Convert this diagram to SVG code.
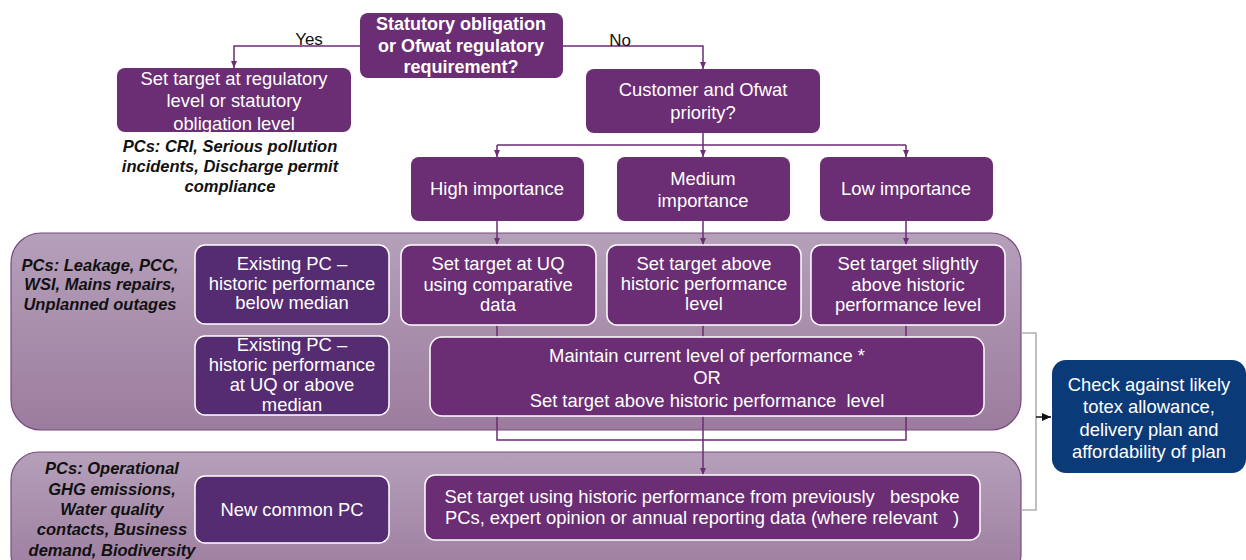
<svg xmlns="http://www.w3.org/2000/svg" width="1246" height="560" viewBox="0 0 1246 560">
<defs>
<linearGradient id="band" x1="0" y1="0" x2="0" y2="1">
<stop offset="0" stop-color="#b5a0ba"/>
<stop offset="1" stop-color="#9c7c9e"/>
</linearGradient>
<marker id="arr" markerUnits="userSpaceOnUse" markerWidth="8" markerHeight="8" refX="7" refY="4" orient="auto">
<path d="M0,1 L7,4 L0,7 Z" fill="#6b2d73"/>
</marker>
<marker id="arrk" markerUnits="userSpaceOnUse" markerWidth="10" markerHeight="10" refX="9" refY="5" orient="auto">
<path d="M0,1 L9,5 L0,9 Z" fill="#111"/>
</marker>
</defs>
<style>
.n{fill:#6b2d73}
.d{fill:#552b72;stroke:#fff;stroke-width:1.5}
.w{fill:#6b2d73;stroke:#fff;stroke-width:1.5}
.b{fill:url(#band);stroke:#7a4a80;stroke-width:1.2}
.t{font-family:"Liberation Sans",Arial,sans-serif;font-size:18.4px;fill:#fff;text-anchor:middle}
.tb{font-family:"Liberation Sans",Arial,sans-serif;font-size:18px;font-weight:bold;fill:#fff;text-anchor:middle}
.pc{font-family:"Liberation Sans",Arial,sans-serif;font-size:16.5px;font-weight:bold;font-style:italic;fill:#111;text-anchor:middle}
.lb{font-family:"Liberation Sans",Arial,sans-serif;font-size:17px;fill:#111;text-anchor:middle}
.c{fill:none;stroke:#6b2d73;stroke-width:1.5}
.g{fill:none;stroke:#b0b0b0;stroke-width:1.6}
</style>

<g id="band1"><rect class="b" x="11" y="233" width="1010" height="197" rx="30"/>
<text class="pc"><tspan x="100" y="271">PCs: Leakage, PCC,</tspan><tspan x="100" y="290">WSI, Mains repairs,</tspan><tspan x="100" y="310">Unplanned outages</tspan></text></g>
<g id="band2"><rect class="b" x="11" y="452" width="1010" height="130" rx="28"/>
<text class="pc"><tspan x="112" y="474">PCs: Operational</tspan><tspan x="112" y="495">GHG emissions,</tspan><tspan x="112" y="515">Water quality</tspan><tspan x="112" y="535">contacts, Business</tspan><tspan x="112" y="556">demand, Biodiversity</tspan></text></g>

<g id="connectors">
<path class="c" d="M360,46 H234 V68" marker-end="url(#arr)"/>
<path class="c" d="M563,46 H703 V69" marker-end="url(#arr)"/>
<path class="c" d="M703,133 V145"/>
<path class="c" d="M497,145 H906"/>
<path class="c" d="M497,145 V157" marker-end="url(#arr)"/>
<path class="c" d="M703,145 V157" marker-end="url(#arr)"/>
<path class="c" d="M906,145 V157" marker-end="url(#arr)"/>
<path class="c" d="M497,221 V245" marker-end="url(#arr)"/>
<path class="c" d="M703,221 V245" marker-end="url(#arr)"/>
<path class="c" d="M906,221 V245" marker-end="url(#arr)"/>
<path class="c" d="M497,325 V337 M703,325 V337 M906,325 V337"/>
<path class="c" d="M497,416 V440 H906 V416"/>
<path class="c" d="M703,416 V475" marker-end="url(#arr)"/>
<path class="g" d="M1021,333 H1036 V510 H1021"/>
<path d="M1036,417 H1051" stroke="#111" stroke-width="1.5" fill="none" marker-end="url(#arrk)"/>
<text class="lb" x="309" y="45">Yes</text>
<text class="lb" x="620" y="46">No</text>
</g>

<g id="q1"><rect class="n" x="360" y="13" width="203" height="65" rx="8"/>
<text class="tb"><tspan x="461" y="30">Statutory obligation</tspan><tspan x="461" y="52">or Ofwat regulatory</tspan><tspan x="461" y="73">requirement?</tspan></text></g>

<g id="reg"><rect class="n" x="117" y="68" width="234" height="64" rx="8"/>
<text class="t"><tspan x="234" y="85">Set target at regulatory</tspan><tspan x="234" y="107">level or statutory</tspan><tspan x="234" y="130">obligation level</tspan></text>
<text class="pc"><tspan x="230" y="152">PCs: CRI, Serious pollution</tspan><tspan x="230" y="172">incidents, Discharge permit</tspan><tspan x="230" y="192">compliance</tspan></text></g>

<g id="q2"><rect class="n" x="586" y="69" width="234" height="64" rx="8"/>
<text class="t"><tspan x="703" y="96">Customer and Ofwat</tspan><tspan x="703" y="119">priority?</tspan></text></g>

<g id="high"><rect class="n" x="411" y="157" width="173" height="64" rx="8"/>
<text class="t" x="497" y="195">High importance</text></g>
<g id="medium"><rect class="n" x="617" y="157" width="173" height="64" rx="8"/>
<text class="t"><tspan x="703" y="185">Medium</tspan><tspan x="703" y="207">importance</tspan></text></g>
<g id="low"><rect class="n" x="820" y="157" width="173" height="64" rx="8"/>
<text class="t" x="906" y="195">Low importance</text></g>

<g id="ex1"><rect class="d" x="195" y="245" width="194" height="79" rx="10"/>
<text class="t"><tspan x="292" y="270">Existing PC –</tspan><tspan x="292" y="290">historic performance</tspan><tspan x="292" y="309">below median</tspan></text></g>
<g id="ex2"><rect class="d" x="195" y="336" width="194" height="79" rx="10"/>
<text class="t"><tspan x="292" y="351">Existing PC –</tspan><tspan x="292" y="371">historic performance</tspan><tspan x="292" y="391">at UQ or above</tspan><tspan x="292" y="411">median</tspan></text></g>

<g id="uq"><rect class="w" x="401" y="245" width="195" height="80" rx="10"/>
<text class="t"><tspan x="498" y="270">Set target at UQ</tspan><tspan x="498" y="291">using comparative</tspan><tspan x="498" y="311">data</tspan></text></g>
<g id="above"><rect class="w" x="607" y="245" width="194" height="80" rx="10"/>
<text class="t"><tspan x="704" y="270">Set target above</tspan><tspan x="704" y="290">historic performance</tspan><tspan x="704" y="310">level</tspan></text></g>
<g id="slightly"><rect class="w" x="811" y="245" width="194" height="80" rx="10"/>
<text class="t"><tspan x="908" y="270">Set target slightly</tspan><tspan x="908" y="291">above historic</tspan><tspan x="908" y="311">performance level</tspan></text></g>

<g id="maintain"><rect class="w" x="430" y="337" width="554" height="79" rx="12"/>
<text class="t"><tspan x="707" y="362">Maintain current level of performance *</tspan><tspan x="707" y="384">OR</tspan><tspan x="707" y="407" xml:space="preserve">Set target above historic performance  level</tspan></text></g>

<g id="newpc"><rect class="d" x="195" y="476" width="194" height="67" rx="10"/>
<text class="t" x="292" y="516">New common PC</text></g>
<g id="using"><rect class="w" x="425" y="475" width="555" height="65" rx="10"/>
<text class="t" xml:space="preserve"><tspan x="702" y="503">Set target using historic performance from previously   bespoke</tspan><tspan x="702" y="524">PCs, expert opinion or annual reporting data (where relevant   )</tspan></text></g>

<g id="check"><rect x="1052" y="360" width="194" height="113" rx="14" fill="#0b3a78"/>
<text class="t"><tspan x="1149" y="391">Check against likely</tspan><tspan x="1149" y="413">totex allowance,</tspan><tspan x="1149" y="436">delivery plan and</tspan><tspan x="1149" y="458">affordability of plan</tspan></text></g>
</svg>
